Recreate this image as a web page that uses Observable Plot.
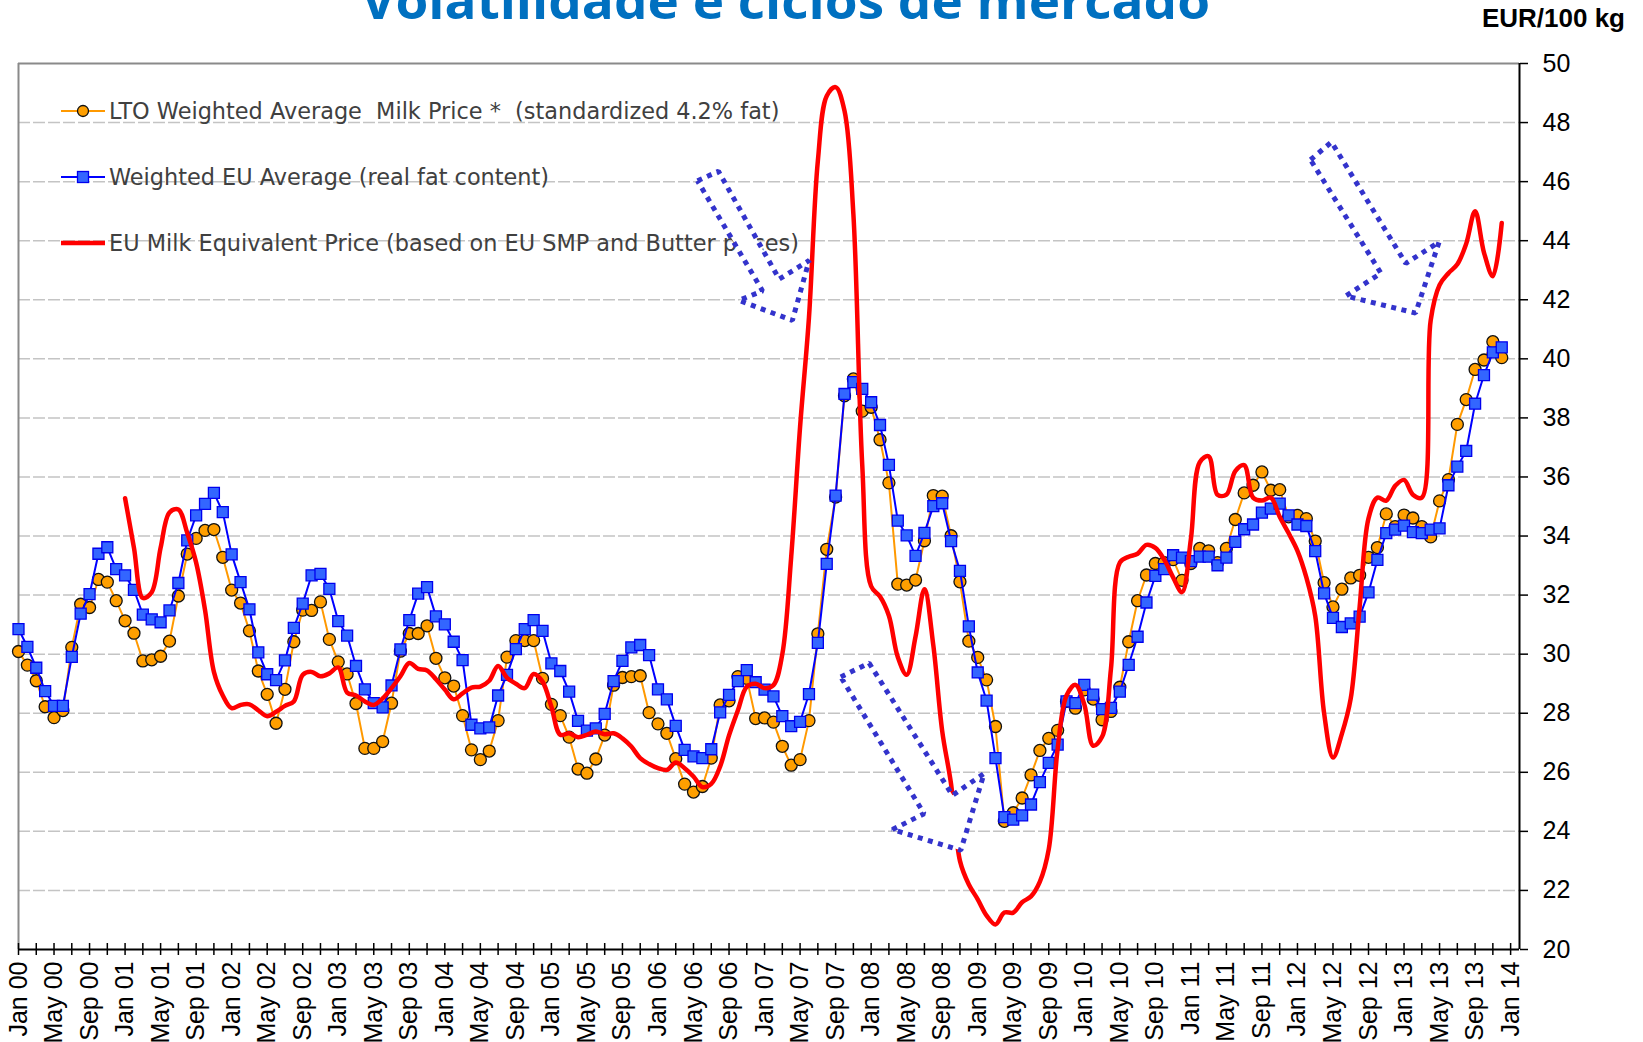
<!DOCTYPE html>
<html><head><meta charset="utf-8">
<script src="https://cdn.jsdelivr.net/npm/d3@7"></script>
<script src="https://cdn.jsdelivr.net/npm/@observablehq/plot@0.6"></script>
<style>
body{margin:0;background:#fff;}
#chart{width:1643px;height:1042px;overflow:hidden;}
</style></head><body><div id="chart"></div>
<script>
// month index 0 = Jan 2000
const tickLabels = ["Jan 00","May 00","Sep 00","Jan 01","May 01","Sep 01","Jan 02","May 02","Sep 02","Jan 03","May 03","Sep 03","Jan 04","May 04","Sep 04","Jan 05","May 05","Sep 05","Jan 06","May 06","Sep 06","Jan 07","May 07","Sep 07","Jan 08","May 08","Sep 08","Jan 09","May 09","Sep 09","Jan 10","May 10","Sep 10","Jan 11","May 11","Sep 11","Jan 12","May 12","Sep 12","Jan 13","May 13","Sep 13","Jan 14"];
const yTicks = [20,22,24,26,28,30,32,34,36,38,40,42,44,46,48,50];
const gridValues = [22,24,26,28,30,32,34,36,38,40,42,44,46,48];

const legendLabels = [
  "LTO Weighted Average  Milk Price *  (standardized 4.2% fat)",
  "Weighted EU Average (real fat content)",
  "EU Milk Equivalent Price (based on EU SMP and Butter prices)"
];
const titleText = "Volatilidade e ciclos de mercado";
const unitText = "EUR/100 kg";

// LTO Weighted Average Milk Price (Jan 00 - Dec 13)
const ltoPrice = [
30.09,29.63,29.1,28.22,27.85,28.09,30.23,31.69,31.58,32.53,32.44,31.81,
31.13,30.71,29.77,29.81,29.93,30.44,31.97,33.39,33.92,34.19,34.22,33.28,
32.17,31.73,30.79,29.43,28.64,27.66,28.81,30.42,31.49,31.48,31.77,30.50,
29.74,29.33,28.33,26.81,26.81,27.04,28.34,30.1,30.70,30.70,30.96,29.86,
29.20,28.92,27.92,26.76,26.43,26.72,27.75,29.90,30.46,30.46,30.46,29.18,
28.30,27.92,27.19,26.11,25.97,26.45,27.26,28.95,29.21,29.24,29.27,28.02,
27.64,27.32,26.46,25.60,25.33,25.52,26.48,28.28,28.42,29.24,29.18,27.82,
27.84,27.70,26.88,26.24,26.43,27.75,30.69,33.55,35.32,38.75,39.32,38.23,
38.36,37.26,35.80,32.37,32.34,32.51,33.84,35.37,35.35,34.01,32.45,30.44,
29.89,29.13,27.55,24.34,24.63,25.13,25.91,26.74,27.15,27.42,28.40,28.17,
28.79,28.48,27.78,28.06,28.88,30.42,31.81,32.68,33.07,33.1,33.2,32.5,
33.07,33.58,33.50,33.1,33.58,34.56,35.46,35.72,36.17,35.55,35.57,34.65,
34.70,34.59,33.83,32.42,31.60,32.20,32.58,32.67,33.28,33.61,34.75,34.32,
34.71,34.61,34.32,33.97,35.19,35.91,37.78,38.62,39.64,39.96,40.58,40.04
];

// Weighted EU Average (Jan 00 - Dec 13)
const euAverage = [
30.85,30.25,29.54,28.75,28.25,28.25,29.91,31.37,32.03,33.40,33.62,32.88,
32.67,32.18,31.34,31.18,31.08,31.48,32.41,33.85,34.70,35.09,35.46,34.81,
33.38,32.44,31.52,30.06,29.32,29.12,29.79,30.89,31.71,32.67,32.72,32.21,
31.12,30.63,29.60,28.81,28.34,28.20,28.94,30.16,31.15,32.05,32.27,31.28,
31.01,30.42,29.80,27.61,27.49,27.52,28.60,29.30,30.17,30.85,31.15,30.79,
29.69,29.43,28.73,27.74,27.41,27.49,27.98,29.09,29.77,30.23,30.31,29.97,
28.81,28.47,27.57,26.76,26.54,26.48,26.78,28.03,28.62,29.09,29.46,29.05,
28.80,28.57,27.90,27.56,27.71,28.65,30.38,33.06,35.37,38.81,39.21,38.98,
38.53,37.76,36.41,34.52,34.02,33.33,34.11,35.01,35.11,33.83,32.82,30.94,
29.38,28.43,26.48,24.48,24.40,24.54,24.91,25.67,26.32,26.94,28.40,28.34,
28.96,28.63,28.14,28.18,28.73,29.64,30.59,31.75,32.65,32.88,33.35,33.27,
33.15,33.30,33.30,33.01,33.27,33.80,34.23,34.39,34.79,34.93,35.10,34.70,
34.39,34.34,33.49,32.06,31.23,30.92,31.04,31.27,32.09,33.19,34.10,34.22,
34.35,34.13,34.10,34.22,34.26,35.72,36.35,36.88,38.48,39.45,40.22,40.39
];

// EU Milk Equivalent Price (Jan 01 - Dec 13)
const milkEquivStart = 12;
const milkEquivalent = [
35.28,33.6,31.9,32.1,33.6,34.8,34.9,34.1,33.1,31.5,29.4,28.6,
28.17,28.28,28.3,28.1,27.9,28.05,28.25,28.4,29.3,29.4,29.25,29.35,
29.55,28.7,28.6,28.4,28.28,28.5,28.85,29.25,29.7,29.5,29.45,29.15,
28.8,28.47,28.67,28.87,28.9,29.1,29.6,29.2,29.0,28.85,29.33,29.07,
28.22,27.27,27.32,27.19,27.27,27.38,27.29,27.32,27.15,26.87,26.48,26.28,
26.14,26.08,26.33,26.14,25.86,25.5,25.61,26.2,27.25,28.1,28.9,29.0,
28.85,28.95,30.0,33.3,37.7,41.4,46.7,48.9,49.2,48.4,44.9,36.4,
32.3,31.95,31.3,29.9,29.3,30.6,32.2,30.3,27.4,25.6,23.0,22.2,
21.7,21.15,20.85,21.25,21.25,21.6,21.8,22.3,23.4,26.8,28.6,28.96,
28.3,26.9,27.2,29.5,33.1,33.3,33.4,33.7,33.6,33.2,32.6,32.1,
33.9,36.5,36.7,35.4,35.4,36.2,36.4,35.3,35.2,35.3,34.65,34.1,
33.5,32.6,31.3,28.0,26.5,27.3,28.5,31.6,34.6,35.3,35.2,35.7,
35.9,35.4,35.3,41.3,42.5,42.9,43.2,43.9,45.0,43.6,42.8,44.6
];

// annotation arrows (outline vertices, month index / value)
const arrowOutlines = [
  [[76.45,46.03],[78.81,46.35],[85.65,42.70],[89.02,43.33],[87.13,41.30],[81.12,41.98],[83.77,42.30]],
  [[92.58,29.23],[95.77,29.70],[105.16,25.22],[108.72,25.96],[106.09,23.36],[98.40,24.06],[101.96,24.60]],
  [[145.47,46.74],[147.83,47.34],[156.2,43.23],[159.95,43.96],[157.3,41.55],[149.44,42.13],[153.4,42.9]]
];

const ltoData = ltoPrice.map((v, i) => ({m: i, v}));
const euData = euAverage.map((v, i) => ({m: i, v}));
const redData = milkEquivalent.map((v, i) => ({m: i + milkEquivStart, v}));
const arrowData = arrowOutlines.flatMap((pts, id) => [...pts, pts[0]].map(([m, v]) => ({id, m, v})));
const minorTicks = d3.range(0, 169, 2);
const labelTicks = tickLabels.map((_, i) => i * 4);

function legendMark() {
  const g = d3.create("svg:g").attr("text-anchor", "start");
  const rows = [
    {color: "#ff9900", w: 2, sym: "circle", fill: "#ff9f00", st: "#111"},
    {color: "#0000ff", w: 2, sym: "square", fill: "#3366ff", st: "#0000ee"},
    {color: "#ff0000", w: 4.5, sym: null}
  ];
  rows.forEach((r, i) => {
    const y = 111 + i * 66;
    g.append("line").attr("x1", 61).attr("x2", 105).attr("y1", y).attr("y2", y)
      .attr("stroke", r.color).attr("stroke-width", r.w);
    if (r.sym === "circle") g.append("circle").attr("cx", 83).attr("cy", y).attr("r", 5.5)
      .attr("fill", r.fill).attr("stroke", r.st).attr("stroke-width", 1.3);
    if (r.sym === "square") g.append("rect").attr("x", 77.5).attr("y", y - 5.5).attr("width", 11).attr("height", 11)
      .attr("fill", r.fill).attr("stroke", r.st).attr("stroke-width", 1.3);
    g.append("text").attr("x", 109).attr("y", y).attr("dy", "0.36em").attr("text-anchor", "start")
      .attr("font-family", "DejaVu Sans, Verdana, sans-serif").attr("font-size", 22.4)
      .attr("fill", "#404040").style("white-space", "pre").text(legendLabels[i]);
  });
  return g.node();
}

function headerMark() {
  const g = d3.create("svg:g");
  g.append("text").attr("x", 361).attr("y", 19).attr("text-anchor", "start")
    .attr("font-family", "Open Sans, Lato, sans-serif").attr("font-weight", "bold")
    .attr("font-size", 50).attr("fill", "#0070c0")
    .attr("textLength", 849).attr("lengthAdjust", "spacingAndGlyphs").text(titleText);
  g.append("text").attr("x", 1625).attr("y", 27).attr("text-anchor", "end")
    .attr("font-family", "Liberation Sans, Arial, sans-serif").attr("font-weight", "bold")
    .attr("font-size", 26).attr("fill", "#000").text(unitText);
  return g.node();
}

const plot = Plot.plot({
  width: 1643, height: 1042,
  marginLeft: 18, marginTop: 63, marginRight: 124, marginBottom: 93,
  x: {domain: [0, 169], axis: null},
  y: {domain: [20, 50], axis: null},
  style: {fontFamily: "Liberation Sans, Arial, sans-serif", background: "white", color: "black"},
  marks: [
    Plot.ruleY(gridValues, {stroke: "#c4c4c4", strokeWidth: 1.5, strokeDasharray: "12,3"}),
    Plot.ruleY([50], {stroke: "#8a8a8a", strokeWidth: 2}),
    Plot.ruleX([0], {stroke: "#8a8a8a", strokeWidth: 2}),
    Plot.line(ltoData, {x: "m", y: "v", stroke: "#ff9900", strokeWidth: 2}),
    Plot.dot(ltoData, {x: "m", y: "v", r: 6, fill: "#ff9f00", stroke: "#111", strokeWidth: 1.3}),
    Plot.line(euData, {x: "m", y: "v", stroke: "#0000ff", strokeWidth: 2}),
    Plot.dot(euData, {x: "m", y: "v", symbol: "square", r: 6.2, fill: "#3366ff", stroke: "#0000ee", strokeWidth: 1.3}),
    Plot.line(redData, {x: "m", y: "v", stroke: "#ff0000", strokeWidth: 4.5, curve: "catmull-rom"}),
    legendMark,
    Plot.line(arrowData, {x: "m", y: "v", z: "id", fill: "white", stroke: "#3333cc", strokeWidth: 5, strokeDasharray: "5,5.5", strokeLinecap: "butt", strokeLinejoin: "miter", curve: "linear"}),
    Plot.ruleY([20], {stroke: "#000", strokeWidth: 2}),
    Plot.ruleX([169], {stroke: "#000", strokeWidth: 2}),
    Plot.axisX(minorTicks, {anchor: "bottom", label: null, tickSize: 12, dy: -6, tickFormat: () => "", strokeWidth: 1.5, stroke: "#000"}),
    Plot.axisX(labelTicks, {anchor: "bottom", label: null, tickSize: 0, tickPadding: 12, tickRotate: -90, tickFormat: d => tickLabels[d / 4], fontSize: 25, fill: "#000"}),
    Plot.axisY(yTicks, {anchor: "right", label: null, tickSize: 8, tickPadding: 15, fontSize: 25, strokeWidth: 1.5, stroke: "#000", fill: "#000"}),
    headerMark
  ]
});
document.getElementById("chart").appendChild(plot);
</script>
</body></html>
